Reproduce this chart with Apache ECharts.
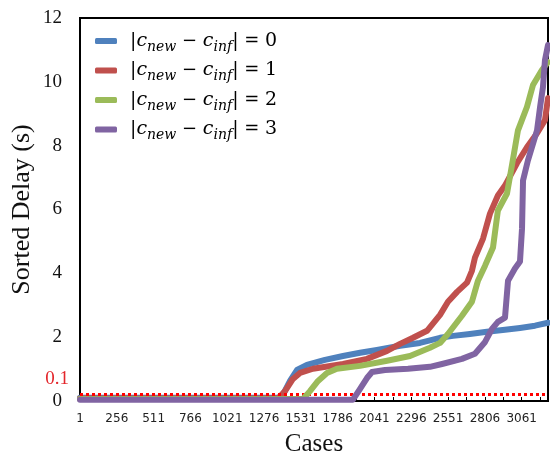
<!DOCTYPE html>
<html>
<head>
<meta charset="utf-8">
<script src="https://cdn.jsdelivr.net/npm/echarts@6/dist/echarts.min.js"></script>
<style>html,body{margin:0;padding:0;background:#fff}#c{width:550px;height:456px}</style>
</head>
<body>
<div id="c"></div>
<script>
// ---- data (x = case index - 1, y = sorted delay in s) ----
const seriesNames = ['|c_new − c_inf| = 0', '|c_new − c_inf| = 1', '|c_new − c_inf| = 2', '|c_new − c_inf| = 3'];
const seriesColors = ['#4F81BD', '#C0504D', '#9BBB59', '#8064A2'];

const blueX = [0, 1372, 1406, 1455, 1503, 1572, 1697, 1822, 1940, 2057, 2217, 2355, 2494, 2584, 2701, 2819, 2944, 3048, 3152, 3242];
const blueY = [0.1, 0.1, 0.2, 0.63, 0.97, 1.13, 1.29, 1.41, 1.51, 1.60, 1.73, 1.82, 1.98, 2.04, 2.10, 2.17, 2.23, 2.29, 2.36, 2.45];

const redX = [0, 1372, 1420, 1475, 1524, 1614, 1822, 1988, 2127, 2217, 2307, 2404, 2494, 2549, 2612, 2681, 2715, 2736, 2792, 2840, 2895, 2944, 3027, 3096, 3166, 3221, 3242];
const redY = [0.08, 0.08, 0.31, 0.69, 0.88, 1.01, 1.16, 1.32, 1.57, 1.79, 1.98, 2.20, 2.70, 3.11, 3.42, 3.71, 4.08, 4.49, 5.09, 5.87, 6.44, 6.75, 7.45, 7.95, 8.39, 8.80, 9.49];

const greenX = [0, 1545, 1593, 1649, 1711, 1780, 1940, 2127, 2286, 2424, 2494, 2549, 2646, 2715, 2757, 2806, 2861, 2895, 2958, 2992, 3034, 3096, 3138, 3200, 3242];
const greenY = [0.06, 0.06, 0.31, 0.63, 0.88, 1.01, 1.10, 1.26, 1.41, 1.67, 1.82, 2.10, 2.67, 3.11, 3.77, 4.24, 4.81, 5.97, 6.50, 7.38, 8.48, 9.21, 9.90, 10.37, 10.62];

const purpleX = [0, 1891, 1940, 1988, 2023, 2113, 2272, 2424, 2508, 2646, 2736, 2806, 2854, 2895, 2944, 2965, 3013, 3048, 3062, 3069, 3103, 3166, 3187, 3207, 3221, 3242];
const purpleY = [0.04, 0.04, 0.38, 0.72, 0.91, 0.97, 1.01, 1.07, 1.16, 1.32, 1.48, 1.85, 2.26, 2.48, 2.61, 3.77, 4.15, 4.37, 5.40, 6.91, 7.54, 8.48, 9.21, 9.83, 10.68, 11.15];

const thresholdValue = 0.22;
const thresholdLabel = '0.1';

const xMin = 0, xMax = 3242, xLabelStep = 255, xTickStep = 127.5;
const yMin = 0, yMax = 12, yStep = 2;

const xs = [blueX, redX, greenX, purpleX];
const ys = [blueY, redY, greenY, purpleY];

const chart = echarts.init(document.getElementById('c'), null, {renderer: 'canvas'});

const series = seriesNames.map((name, i) => {
  const s = {
    name: name,
    type: 'line',
    data: xs[i].map((x, j) => [x, ys[i][j]]),
    showSymbol: false,
    symbol: 'none',
    color: seriesColors[i],
    lineStyle: {width: 6, color: seriesColors[i], cap: 'round', join: 'round'},
    z: 3 + i,
    animation: false
  };
  if (i === 3) {
    s.markLine = {
      silent: true,
      symbol: 'none',
      animation: false,
      data: [{yAxis: thresholdValue}],
      lineStyle: {color: '#ff0000', type: [3, 3], width: 3},
      label: {show: false}
    };
  }
  return s;
});

const mathFont = 'DejaVu Serif';
chart.setOption({
  animation: false,
  grid: {left: 80, right: 2, top: 18, bottom: 55, outerBoundsMode: 'none', containLabel: false,
         show: true, borderColor: '#000', borderWidth: 2, backgroundColor: 'transparent'},
  legend: {
    data: seriesNames.map(n => ({name: n, icon: 'roundRect'})),
    orient: 'vertical',
    left: 90, top: 23,
    itemWidth: 22, itemHeight: 6, itemGap: 3.5,
    formatter: function (name) {
      const k = name.slice(-1);
      return '{bar||}{c|c}{sub|new}{op| − }{c|c}{sub|inf}{bar||}{op| = }{num|' + k + '}';
    },
    textStyle: {
      padding: [0, 0, 0, 8],
      lineHeight: 26,
      rich: {
        bar: {fontFamily: mathFont, fontSize: 19, lineHeight: 26, height: 26, color: '#000'},
        c: {fontFamily: mathFont, fontStyle: 'italic', fontSize: 19, lineHeight: 26, color: '#000'},
        sub: {fontFamily: mathFont, fontStyle: 'italic', fontSize: 14, lineHeight: 10, verticalAlign: 'bottom', color: '#000'},
        op: {fontFamily: mathFont, fontSize: 18, lineHeight: 26, color: '#000'},
        num: {fontFamily: mathFont, fontSize: 19, lineHeight: 26, color: '#000'}
      }
    }
  },
  xAxis: {
    type: 'value', min: xMin, max: xMax, interval: xTickStep,
    name: 'Cases', nameLocation: 'middle', nameGap: 31, nameMoveOverlap: false,
    nameTextStyle: {fontFamily: 'Liberation Serif', fontSize: 25, color: '#111'},
    axisLine: {show: true, lineStyle: {color: '#000', width: 2}},
    axisTick: {show: true, inside: true, length: 4, lineStyle: {color: '#000', width: 1}},
    axisLabel: {
      margin: 12, fontFamily: 'DejaVu Sans', fontSize: 12, color: '#222',
      formatter: function (v) {
        const r = Math.round(v);
        return (r % xLabelStep === 0 && r <= xMax) ? String(r + 1) : '';
      }
    },
    splitLine: {show: false}
  },
  yAxis: {
    type: 'value', min: yMin, max: yMax, interval: yStep,
    name: 'Sorted Delay (s)', nameLocation: 'middle', nameGap: 45, nameMoveOverlap: false,
    nameTextStyle: {fontFamily: 'Liberation Serif', fontSize: 26, color: '#111'},
    axisLine: {show: true, lineStyle: {color: '#000', width: 2}},
    axisTick: {show: false},
    axisLabel: {margin: 18, fontFamily: 'Liberation Serif', fontSize: 19, color: '#111'},
    splitLine: {show: false}
  },
  series: series
});

// threshold annotation text placed next to the dotted line, via the axis scale
const p = chart.convertToPixel({xAxisIndex: 0, yAxisIndex: 0}, [xMin, thresholdValue]);
chart.setOption({
  graphic: [{
    type: 'text', silent: true,
    x: p[0] - 11, y: p[1] - 15,
    style: {text: thresholdLabel, align: 'right', verticalAlign: 'middle',
            fill: '#e3262b', font: '19px "Liberation Serif"'}
  }]
});
</script>
</body>
</html>
